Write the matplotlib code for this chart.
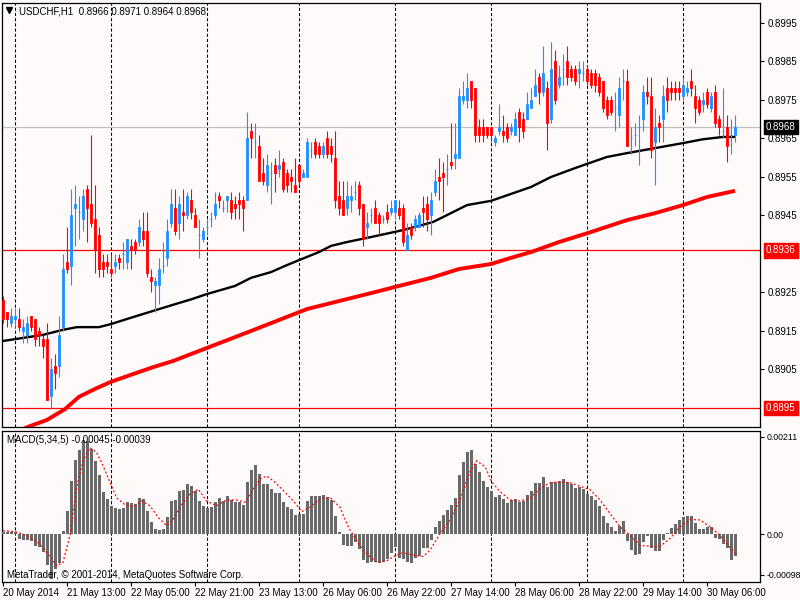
import matplotlib
matplotlib.use('Agg')
import matplotlib.pyplot as plt
from matplotlib.lines import Line2D
from matplotlib.transforms import blended_transform_factory
import numpy as np
import pandas as pd

plt.rcParams['font.family'] = ['Liberation Sans', 'DejaVu Sans']

# ---------------- data (prices in pips above 0.8900) ----------------
BASE = 0.8900
PIP = 0.0001

open_pips = [
    23, 20, 17, 18, 18, 15, 14, 19, 18, 15,
    13, 13, -2, 6, 6, 16, 33, 32, 47, 46,
    44, 52, 48, 44, 40, 33, 33, 31, 32, 34,
    35, 33, 37, 38, 38, 41, 41, 29, 27, 27,
    32, 34, 43, 47, 43, 46, 45, 49, 45, 40,
    39, 42, 44, 45, 50, 47, 49, 49, 48, 49,
    49, 49, 67, 64, 63, 56, 53, 56, 58, 57,
    59, 56, 55, 53, 58, 55, 55, 62, 64, 63,
    61, 65, 63, 60, 50, 49, 47, 49, 51, 53,
    48, 42, 45, 47, 45, 44, 46, 46, 46, 47,
    47, 36, 42, 42, 42, 47, 48, 45, 51, 55,
    56, 57, 59, 60, 60, 75, 75, 80, 78, 68,
    68, 68, 68, 64, 67, 67, 68, 67, 66, 72,
    70, 70, 73, 76, 81, 77, 78, 70, 85, 79,
    83, 85, 83, 83, 82, 82, 83, 82, 82, 81,
    80, 75, 75, 73, 71, 80, 80, 65, 66, 68,
    70, 77, 76, 64, 69, 70, 78, 78, 78, 78,
    76, 77, 80, 76, 75, 74, 77, 73, 77, 70,
    67, 68, 66, 66]
high_pips = [
    24, 20, 21, 21, 21, 18, 19, 19, 18, 16,
    14, 17, 8, 9, 19, 35, 42, 52, 53, 50,
    52, 53, 66, 53, 42, 35, 35, 35, 35, 35,
    38, 39, 39, 39, 44, 46, 46, 31, 29, 34,
    38, 44, 52, 52, 50, 52, 51, 52, 47, 44,
    42, 44, 46, 51, 51, 49, 50, 51, 50, 51,
    50, 72, 69, 69, 66, 60, 61, 59, 60, 62,
    60, 57, 57, 60, 58, 57, 65, 64, 65, 64,
    64, 67, 65, 67, 54, 54, 54, 53, 54, 54,
    48, 46, 47, 49, 46, 45, 48, 49, 49, 49,
    48, 43, 43, 45, 46, 50, 50, 51, 57, 60,
    59, 61, 69, 69, 78, 80, 82, 80, 78, 70,
    70, 68, 68, 66, 74, 71, 69, 69, 72, 73,
    72, 77, 78, 83, 82, 89, 80, 90, 88, 84,
    87, 89, 84, 84, 85, 85, 84, 83, 83, 82,
    80, 76, 76, 77, 81, 83, 83, 68, 69, 71,
    79, 81, 81, 73, 71, 79, 81, 80, 80, 80,
    81, 80, 83, 79, 76, 77, 78, 77, 79, 71,
    78, 71, 70, 71]
low_pips = [
    17, 16, 16, 16, 15, 12, 12, 15, 11, 11,
    8, -3, -5, 0, 3, 15, 30, 27, 37, 39,
    41, 38, 42, 30, 29, 29, 30, 29, 30, 31,
    31, 31, 31, 35, 37, 37, 29, 25, 20, 22,
    30, 32, 42, 40, 39, 41, 44, 44, 42, 34,
    38, 40, 42, 44, 47, 46, 46, 44, 44, 44,
    41, 49, 60, 60, 54, 53, 51, 48, 51, 55,
    51, 51, 51, 51, 53, 55, 55, 60, 60, 60,
    60, 60, 59, 47, 45, 45, 45, 46, 49, 45,
    37, 39, 43, 43, 40, 43, 43, 45, 44, 44,
    37, 36, 39, 41, 42, 42, 41, 40, 50, 49,
    46, 53, 57, 57, 60, 74, 73, 73, 64, 64,
    64, 65, 64, 63, 66, 64, 64, 66, 66, 64,
    65, 70, 73, 76, 74, 76, 62, 69, 74, 78,
    79, 79, 80, 79, 78, 80, 79, 78, 77, 76,
    72, 70, 71, 67, 68, 75, 63, 61, 63, 58,
    67, 74, 60, 53, 64, 64, 72, 75, 75, 75,
    75, 76, 76, 69, 71, 72, 73, 72, 68, 66,
    65, 59, 61, 64]
close_pips = [
    18, 18, 19, 19, 16, 16, 17, 16, 13, 14,
    11, -3, 5, 4, 14, 31, 31, 45, 48, 46,
    50, 47, 43, 36, 31, 31, 32, 30, 33, 33,
    35, 39, 36, 36, 42, 39, 30, 28, 28, 31,
    32, 41, 48, 41, 48, 45, 50, 46, 42, 40,
    41, 42, 44, 48, 49, 47, 50, 46, 47, 48,
    47, 65, 65, 64, 54, 54, 58, 56, 56, 58,
    52, 53, 54, 51, 54, 56, 64, 62, 61, 61,
    63, 61, 61, 49, 47, 45, 50, 50, 51, 47,
    39, 43, 45, 43, 43, 44, 44, 47, 49, 45,
    38, 40, 40, 44, 45, 46, 44, 49, 54, 54,
    55, 57, 58, 61, 76, 76, 78, 75, 66, 66,
    66, 66, 66, 65, 68, 66, 65, 68, 70, 68,
    67, 74, 75, 79, 77, 82, 69, 83, 75, 81,
    83, 81, 81, 80, 83, 82, 80, 79, 79, 77,
    73, 71, 72, 73, 78, 80, 63, 65, 66, 68,
    77, 76, 62, 68, 68, 76, 75, 77, 77, 77,
    79, 78, 78, 73, 72, 75, 74, 76, 69, 68,
    67, 63, 66, 68]

# moving averages read at sample bars (bar index, pips above 0.8900)
ma_black_bars = [0, 5, 10, 15, 18.5, 24, 27, 32.5, 37.5, 42.5, 47, 51, 58, 62, 67, 70.5,
                 74, 79, 82, 86, 92, 100, 107.5, 111, 116, 122, 127, 132, 137, 143,
                 146, 151, 156, 163, 170, 175, 180, 183]
ma_black_pips = [12.4, 13.2, 14.0, 15.3, 16.0, 16.0, 16.8, 18.6, 20.2, 21.8, 23.2, 24.6,
                 26.7, 28.8, 30.3, 31.9, 33.4, 35.5, 37.1, 38.1, 39.4, 41.2, 43.3, 45.1,
                 47.7, 48.8, 50.6, 52.4, 55.0, 57.3, 58.4, 60.2, 61.2, 62.5, 63.8, 64.8,
                 65.4, 65.4]
ma_red_bars = [4, 6, 11, 15.5, 19, 23.5, 27, 32.5, 37.5, 42.5, 47, 62, 76, 93, 99, 107,
               114, 122, 127, 132, 139, 147, 156, 163, 170, 176, 183]
ma_red_pips = [-11, -10, -8.1, -5.3, -2.1, 0.2, 1.8, 3.8, 5.6, 7.2, 9.0, 15.0, 20.7, 25.1,
               26.7, 28.8, 31.1, 32.4, 34.0, 35.5, 38.1, 40.7, 43.8, 45.6, 47.7, 49.8, 51.4]

# MACD(5,34,5) histogram, units of 1e-5
macd_e5 = [
    5, 4, 4, 4, -10, -12, -12, -15, -24, -27,
    -37, -63, -92, -72, -60, 6, 47, 108, 151, 172,
    192, 190, 175, 149, 120, 87, 72, 58, 53, 51,
    53, 65, 63, 62, 74, 72, 48, 24, 10, 8,
    10, 34, 68, 70, 89, 91, 102, 99, 89, 67,
    57, 53, 56, 65, 74, 68, 79, 69, 65, 65,
    60, 106, 132, 142, 122, 102, 102, 93, 85, 85,
    65, 56, 51, 39, 41, 42, 68, 77, 77, 77,
    80, 75, 69, 37, 4, -22, -24, -24, -17, -31,
    -53, -60, -58, -58, -60, -58, -50, -38, -27, -48,
    -50, -57, -59, -48, -45, -29, -29, -12, 14, 27,
    39, 49, 59, 73, 121, 148, 168, 172, 143, 128,
    109, 97, 89, 76, 80, 71, 64, 70, 71, 66,
    68, 80, 89, 104, 105, 117, 97, 107, 107, 109,
    113, 107, 102, 95, 97, 93, 83, 78, 70, 57,
    37, 22, 14, 7, 16, 27, -14, -33, -43, -41,
    -16, -4, -29, -34, -34, -12, 3, 12, 20, 29,
    35, 37, 37, 23, 11, 11, 14, 14, -7, -11,
    -20, -29, -52, -45]
# signal line read at sample bars, units of 1e-5
signal_bars = [0, 3, 6, 9, 12, 13.4, 15, 16.75, 18.4, 20, 21.75, 23.4, 25, 26.75, 28.4,
               30.5, 32.6, 34.7, 36.75, 38.8, 40.9, 42.6, 44.7, 46.75, 48.8, 50.9, 53.4,
               55.9, 58.4, 60.5, 62.6, 64.25, 65.9, 67.6, 70.1, 72.6, 74.7, 76.75, 79.25,
               81.75, 84.25, 86.3, 88.8, 90.9, 93.4, 95.9, 97.6, 100, 102.6, 105, 106.75,
               109.25, 111.75, 114.25, 116.75, 118.4, 120.5, 122.2, 124.25, 126.75,
               129.25, 131.75, 134.25, 136.75, 139.25, 141.75, 144.25, 146.75, 149.25,
               151.75, 154.25, 156.75, 159.25, 161.75, 164.25, 166.75, 169.25, 171.75,
               174.25, 176.75, 179.25, 180.9, 183]
signal_e5 = [7, 5, -3, -19, -48, -65, -58, -3, 95, 150, 177, 167, 140, 106, 74,
             60, 56, 68, 58, 34, 17, 31, 61, 82, 92, 68, 58,
             70, 70, 65, 92, 113, 119, 109, 89, 68, 46, 55, 72,
             75, 55, 15, -19, -40, -58, -55, -46, -38, -43, -46, -33,
             1, 29, 70, 128, 150, 138, 107, 87, 70,
             68, 73, 93, 105, 107, 105, 98, 91, 70,
             42, 15, -2, -23, -25, -25, -9, 15, 30,
             29, 15, -2, -19, -39]

tick_labels = ['20 May 2014', '21 May 13:00', '22 May 05:00', '22 May 21:00',
               '23 May 13:00', '26 May 06:00', '26 May 22:00', '27 May 14:00',
               '28 May 06:00', '28 May 22:00', '29 May 14:00', '30 May 06:00']
price_ticks = [0.8995, 0.8985, 0.8975, 0.8965, 0.8955, 0.8945, 0.8925, 0.8915, 0.8905]
bid_price = 0.8968
level_prices = [0.8936, 0.8895]
header = 'USDCHF,H1  0.8966 0.8971 0.8964 0.8968'
macd_header = 'MACD(5,34,5) -0.00045 -0.00039'
copyright_txt = 'MetaTrader, \u00a9 2001-2014, MetaQuotes Software Corp.'
macd_max, macd_min = 0.00211, -0.00098

# ---------------- derived arrays ----------------
O = BASE + np.array(open_pips) * PIP
H = BASE + np.array(high_pips) * PIP
L = BASE + np.array(low_pips) * PIP
C = BASE + np.array(close_pips) * PIP
n = len(C)
x = np.arange(n)

times = pd.date_range('2014-05-20 21:00', '2014-05-30 13:00', freq='h')
times = times[(times < '2014-05-23 23:00') | (times >= '2014-05-26 00:00')]
labels_fmt = [t.strftime('%d %b %H:%M') for t in times]
tick_idx = [0] + [labels_fmt.index(s) for s in tick_labels[1:]]
day_idx = [i for i, t in enumerate(times) if t.hour == 0]

BG = '#fffafa'
BULL = '#1e90ff'
BEAR = '#ff0000'

fig = plt.figure(figsize=(8, 6), dpi=100, facecolor=BG)
W, Hpx = 800, 600
axm = fig.add_axes([2 / W, 1 - 427 / Hpx, 758 / W, 424 / Hpx], facecolor=BG)
axd = fig.add_axes([2 / W, 1 - 582 / Hpx, 758 / W, 151 / Hpx], facecolor=BG)

xlim = (-0.25, 189.25)
for ax in (axm, axd):
    ax.set_xlim(*xlim)
    for s in ax.spines.values():
        s.set_color('black')
        s.set_linewidth(0.9)
    for g in day_idx:
        ax.axvline(g, color='black', lw=0.75, ls=(0, (3, 2)), zorder=1)

axm.set_ylim(0.889006, 0.900019)
axd.set_ylim(macd_min, macd_max)

# horizontal lines
axm.axhline(bid_price, color='#c0c0c0', lw=0.9, zorder=2)
for lp in level_prices:
    axm.axhline(lp, color='red', lw=0.9, zorder=2)

# moving averages
axm.plot(ma_red_bars, BASE + np.array(ma_red_pips) * PIP, color='#ff0000', lw=2.8,
         zorder=3, solid_capstyle='butt')
axm.plot(ma_black_bars, BASE + np.array(ma_black_pips) * PIP, color='black', lw=1.7,
         zorder=3, solid_capstyle='butt')

# candles
up = C >= O
colors = np.where(up, BULL, BEAR)
axm.vlines(x, L, H, colors=colors, lw=0.8, zorder=4)
body_lo = np.minimum(O, C)
body_h = np.abs(C - O)
axm.bar(x, body_h, bottom=body_lo, width=0.55, color=colors, edgecolor=colors,
        linewidth=0.6, zorder=5)

# MACD pane
axd.bar(x, np.array(macd_e5) * 1e-5, width=0.75, color='#696969', linewidth=0, zorder=3)
axd.plot(signal_bars, np.array(signal_e5) * 1e-5, color='red', lw=0.9,
         ls=(0, (1.5, 1.8)), zorder=4)

# price axis
axm.yaxis.tick_right()
axm.set_yticks(price_ticks)
axm.set_yticklabels([f'{p:.4f}' for p in price_ticks])
axm.tick_params(axis='y', direction='out', length=3, width=0.8, pad=2.5,
                labelsize=7, colors='black')
axm.tick_params(axis='x', bottom=False, labelbottom=False)

tr = blended_transform_factory(axm.transAxes, axm.transData)
axm.text(1.0079, bid_price, f'{bid_price:.4f}', transform=tr, ha='left', va='center',
         fontsize=7, color='white', zorder=10, clip_on=False,
         bbox=dict(boxstyle='square,pad=0.25', fc='black', ec='black'))
for lp in level_prices:
    axm.text(1.0079, lp, f'{lp:.4f}', transform=tr, ha='left', va='center',
             fontsize=7, color='white', zorder=10, clip_on=False,
             bbox=dict(boxstyle='square,pad=0.25', fc='red', ec='red'))

# MACD axis ticks
scale = (macd_max - macd_min) / 151.0
axd.yaxis.tick_right()
axd.set_yticks([macd_max - 6 * scale, 0.0, macd_min + 7 * scale])
axd.set_yticklabels([f'{macd_max:.5f}', '0.00', f'{macd_min:.5f}'])
axd.tick_params(axis='y', direction='out', length=3, width=0.8, pad=1.5,
                labelsize=6.3, colors='black')

# time axis
axd.set_xticks(tick_idx)
axd.set_xticklabels(tick_labels, ha='left')
axd.tick_params(axis='x', direction='out', length=3, width=0.8, pad=1.5,
                labelsize=7, colors='black')

# header texts
fig.text(19 / W, 1 - 11 / Hpx, header, ha='left', va='center', fontsize=7, color='black')
fig.add_artist(Line2D([9 / W], [1 - 10 / Hpx], marker='v', color='black',
                      markersize=4, transform=fig.transFigure))
fig.text(7 / W, 1 - 440 / Hpx, macd_header, ha='left', va='center', fontsize=7,
         color='black', zorder=10)
fig.text(7 / W, 1 - 575 / Hpx, copyright_txt, ha='left', va='center', fontsize=7,
         color='black', zorder=10)

fig.savefig('out.png', dpi=100, facecolor=BG)
